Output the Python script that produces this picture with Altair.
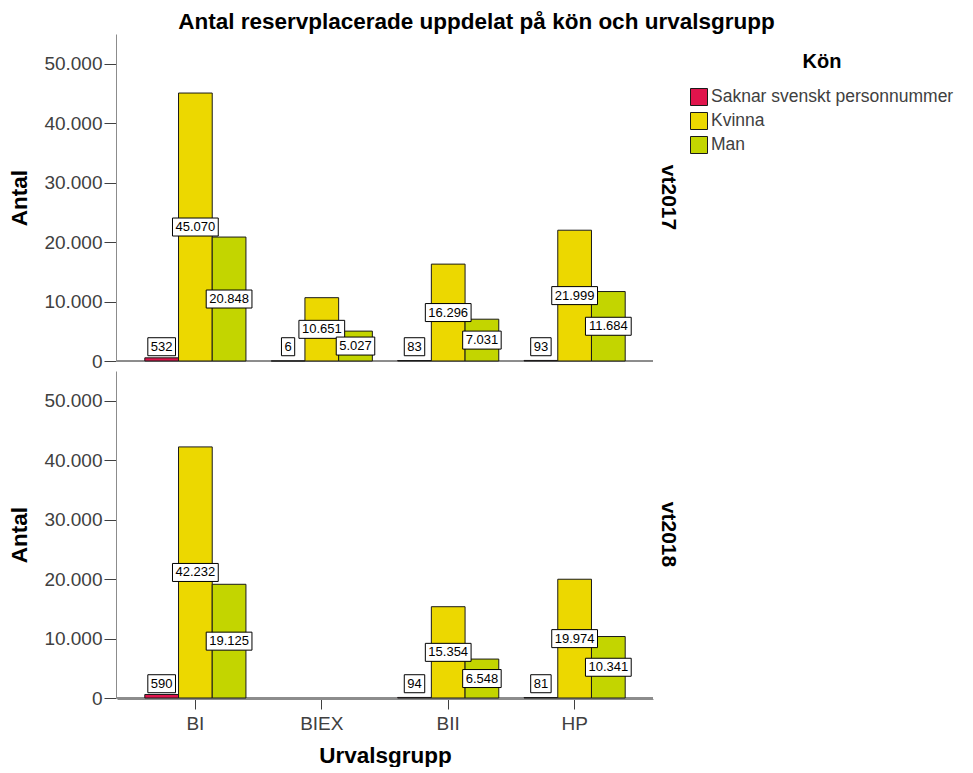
import altair as alt
import pandas as pd

groups = ["BI", "BIEX", "BII", "HP"]
sexes = ["Saknar svenskt personnummer", "Kvinna", "Man"]
terms = ["vt2017", "vt2018"]
colors = ["#E0144C", "#ECD800", "#C3D500"]

# values per term: for each group, [Saknar, Kvinna, Man]
vt2017 = {"BI": [532, 45070, 20848], "BIEX": [6, 10651, 5027],
          "BII": [83, 16296, 7031], "HP": [93, 21999, 11684]}
vt2018 = {"BI": [590, 42232, 19125],
          "BII": [94, 15354, 6548], "HP": [81, 19974, 10341]}

FONT = "Liberation Sans"
LABEL_FS = 13
BOX_R = 9  # half height of label box in px


def box_path(text):
    w = sum(0.278 if ch == "." else 0.556 for ch in text) * LABEL_FS
    a = (w / 2 + 3) / BOX_R
    return f"M{-a:.3f},-1L{a:.3f},-1L{a:.3f},1L{-a:.3f},1Z"


rows = []
for term, table in zip(terms, [vt2017, vt2018]):
    for g in groups:
        if g not in table:
            continue
        for s, v in zip(sexes, table[g]):
            lab = f"{v:,}".replace(",", ".")
            rows.append({"Termin": term, "Urvalsgrupp": g, "Kön": s,
                         "Antal": v, "label": lab, "box": box_path(lab)})
df = pd.DataFrame(rows)

x_enc = alt.X("Urvalsgrupp:N",
              scale=alt.Scale(domain=groups, paddingInner=0.2, paddingOuter=0.22),
              axis=alt.Axis(title="Urvalsgrupp", labelAngle=0))
xo_enc = alt.XOffset("Kön:N", scale=alt.Scale(domain=sexes, paddingInner=0, paddingOuter=0))
y_scale = alt.Scale(domain=[0, 55000], nice=False)

baseline = alt.Chart().mark_rule(color="#8c8c8c", strokeWidth=1).encode(
    y=alt.datum(0, scale=y_scale)
)

bars = alt.Chart().mark_bar(stroke="#1a1a1a", strokeWidth=1, opacity=1).encode(
    x=x_enc, xOffset=xo_enc,
    y=alt.Y("Antal:Q", scale=y_scale,
            axis=alt.Axis(title="Antal", values=[0, 10000, 20000, 30000, 40000, 50000],
                          labelExpr="replace(format(datum.value, ',d'), ',', '.')")),
    color=alt.Color("Kön:N", scale=alt.Scale(domain=sexes, range=colors),
                    legend=alt.Legend(title="Kön", orient="none", legendX=573, legendY=18)),
)

label_base = alt.Chart().transform_calculate(
    ly="max(datum.Antal / 2, 2400)"
)

boxes = label_base.mark_point(filled=True, fill="white", stroke="black",
                              strokeWidth=1, opacity=1, size=(2 * BOX_R) ** 2).encode(
    x=x_enc, xOffset=xo_enc,
    y=alt.Y("ly:Q", scale=y_scale),
    shape=alt.Shape("box:N", scale=None),
)

texts = label_base.mark_text(font=FONT, fontSize=LABEL_FS, color="black",
                             baseline="middle", align="center").encode(
    x=x_enc, xOffset=xo_enc,
    y=alt.Y("ly:Q", scale=y_scale),
    text="label:N",
)

layer = alt.layer(baseline, bars, boxes, texts, data=df).properties(width=536, height=327)

chart = layer.facet(
    row=alt.Row("Termin:N", sort=terms,
                header=alt.Header(title=None, labelOrient="right", labelAngle=90,
                                  labelFont=FONT, labelFontSize=21, labelFontWeight="bold",
                                  labelColor="black", labelPadding=4))
).properties(
    title=alt.TitleParams("Antal reservplacerade uppdelat på kön och urvalsgrupp",
                          font=FONT, fontSize=22.5, fontWeight="bold", color="black",
                          anchor="middle", offset=1, dx=-5),
    spacing=9,
).resolve_scale(y="shared").configure(
    font=FONT, background="white", padding={"left": 0, "top": 2, "right": 4, "bottom": 0}
).configure_view(stroke=None).configure_axis(
    grid=False, labelFont=FONT, labelFontSize=19, labelColor="#404040",
    titleFont=FONT, titleFontSize=22.5, titleFontWeight="bold", titleColor="black",
    domainColor="#8c8c8c", tickColor="#404040",
).configure_axisY(
    tickSize=12, labelPadding=2, titlePadding=12,
).configure_axisX(
    tickSize=10, labelPadding=5, titlePadding=11, domain=True,
).configure_legend(
    titleFont=FONT, titleFontSize=20, titleFontWeight="bold", titleColor="black",
    titleAnchor="middle", titlePadding=16,
    labelFont=FONT, labelFontSize=17.5, labelColor="#404040", labelOffset=3,
    labelLimit=0,
    symbolType="square", symbolSize=289, symbolStrokeColor="#1a1a1a",
    symbolStrokeWidth=1, symbolOpacity=1, rowPadding=2,
)

chart.save("out.html", embed_options={"renderer": "svg", "actions": False})
